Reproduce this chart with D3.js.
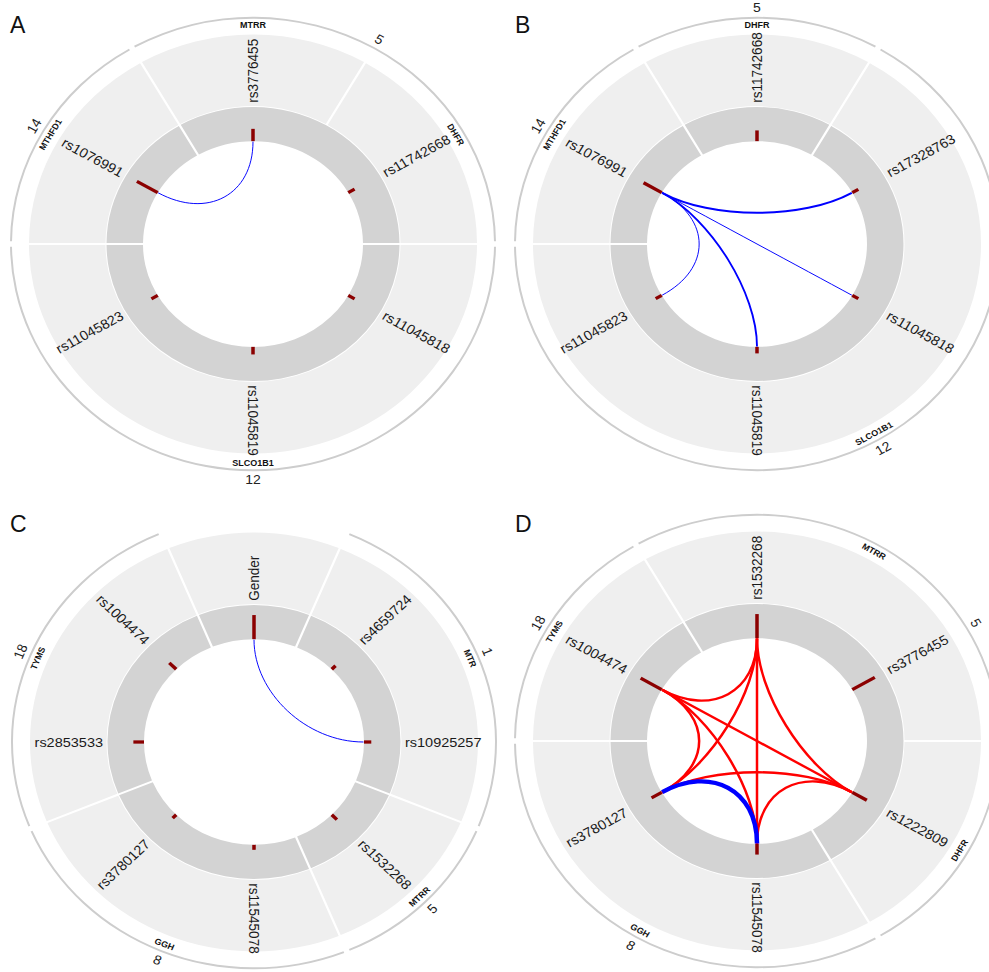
<!DOCTYPE html>
<html>
<head>
<meta charset="utf-8">
<script src="https://cdn.jsdelivr.net/npm/d3@7"></script>
<style>
  html, body { margin: 0; padding: 0; background: #fff; }
  svg { display: block; font-family: "Liberation Sans", Arial, Helvetica, sans-serif; }
</style>
</head>
<body>
<svg id="chart" width="989" height="972"></svg>
<script>
// panel A
const snpsA = ['rs3776455', 'rs11742668', 'rs11045818', 'rs11045819', 'rs11045823', 'rs1076991'];
const genesA = ['MTRR', 'DHFR', 'SLCO1B1', 'SLCO1B1', 'SLCO1B1', 'MTHFD1'];
const chromA = ['5', '5', '12', '12', '12', '14'];
const scoreA = [0.47, 0.26, 0.26, 0.29, 0.26, 0.86];
const linksA = [['rs3776455', 'rs1076991', 0.2, 'redundancy']];

// panel B
const snpsB = ['rs11742668', 'rs17328763', 'rs11045818', 'rs11045819', 'rs11045823', 'rs1076991'];
const genesB = ['DHFR', 'SLCO1B1', 'SLCO1B1', 'SLCO1B1', 'SLCO1B1', 'MTHFD1'];
const chromB = ['5', '12', '12', '12', '12', '14'];
const scoreB = [0.41, 0.25, 0.25, 0.25, 0.25, 0.75];
const linksB = [
  ['rs1076991', 'rs17328763', 0.45, 'redundancy'],
  ['rs1076991', 'rs11045818', 0.2, 'redundancy'],
  ['rs1076991', 'rs11045819', 0.38, 'redundancy'],
  ['rs1076991', 'rs11045823', 0.2, 'redundancy']
];

// panel C
const snpsC = ['Gender', 'rs4659724', 'rs10925257', 'rs1532268', 'rs11545078', 'rs3780127', 'rs2853533', 'rs1004474'];
const genesC = ['', 'MTR', 'MTR', 'MTRR', 'GGH', 'GGH', 'TYMS', 'TYMS'];
const chromC = ['', '1', '1', '5', '8', '8', '18', '18'];
const scoreC = [0.92, 0.19, 0.26, 0.26, 0.19, 0.18, 0.38, 0.35];
const linksC = [['Gender', 'rs10925257', 0.2, 'redundancy']];

// panel D
const snpsD = ['rs1532268', 'rs3776455', 'rs1222809', 'rs11545078', 'rs3780127', 'rs1004474'];
const genesD = ['MTRR', 'MTRR', 'DHFR', 'GGH', 'GGH', 'TYMS'];
const chromD = ['5', '5', '5', '8', '8', '18'];
const scoreD = [0.92, 0.93, 0.6, 0.41, 0.42, 0.87];
const linksD = [
  ['rs1532268', 'rs1004474', 0.5, 'synergy'],
  ['rs1532268', 'rs3780127', 0.5, 'synergy'],
  ['rs1532268', 'rs11545078', 0.5, 'synergy'],
  ['rs1532268', 'rs1222809', 0.5, 'synergy'],
  ['rs1004474', 'rs3780127', 0.5, 'synergy'],
  ['rs1004474', 'rs11545078', 0.5, 'synergy'],
  ['rs1004474', 'rs1222809', 0.5, 'synergy'],
  ['rs3780127', 'rs1222809', 0.5, 'synergy'],
  ['rs3780127', 'rs11545078', 0.5, 'synergy'],
  ['rs1222809', 'rs11545078', 0.5, 'synergy'],
  ['rs3780127', 'rs11545078', 0.9, 'redundancy']
];

const panels = [
  {letter: 'A', lx: 10, ly: 33, cx: 253, cy: 244, snps: snpsA, genes: genesA, chroms: chromA, scores: scoreA, links: linksA},
  {letter: 'B', lx: 515, ly: 33, cx: 757, cy: 244, snps: snpsB, genes: genesB, chroms: chromB, scores: scoreB, links: linksB},
  {letter: 'C', lx: 10, ly: 532, cx: 254, cy: 742, snps: snpsC, genes: genesC, chroms: chromC, scores: scoreC, links: linksC},
  {letter: 'D', lx: 515, ly: 532, cx: 757, cy: 741, snps: snpsD, genes: genesD, chroms: chromD, scores: scoreD, links: linksD}
];

const svg = d3.select('#chart');
svg.append('rect').attr('width', 989).attr('height', 972).attr('fill', '#fff');

const deg = Math.PI / 180;
const squash = 0.935; // the picture is a bit flatter than round
const R = {inner: 110, grayOuter: 146.5, lightInner: 147.5, lightOuter: 224,
  chrom: 241, snp: 151, gene: 234, chromLabel: 252.5, link: 109.5};

const tickLen = d3.scaleLinear().domain([0, 1]).range([0, 28]);
const linkWidth = d3.scaleLinear().domain([0, 1]).range([0, 5]);
const linkColor = d3.scaleOrdinal().domain(['redundancy', 'synergy']).range(['#0000ff', '#ff0000']);

const pt = (a, r) => [r * Math.sin(a), -r * Math.cos(a)];

// contiguous runs of the same key (gene or chromosome)
function runs(keys) {
  const out = [];
  keys.forEach((k, i) => {
    const last = out[out.length - 1];
    if (last && last.key === k) last.end = i;
    else out.push({key: k, start: i, end: i});
  });
  return out;
}

function bendTransform(a, r) {
  const [x, y] = pt(a, r);
  let rot = a / deg;
  if (rot > 90 && rot < 270) rot -= 180;
  return `translate(${x},${y}) rotate(${rot})`;
}

function drawPanel(p) {
  svg.append('text')
    .attr('x', p.lx).attr('y', p.ly)
    .attr('font-size', 23).attr('fill', '#111')
    .text(p.letter);

  const n = p.snps.length;
  const angle = d3.scaleLinear().domain([0, n]).range([0, 2 * Math.PI]);
  const half = Math.PI / n;
  const idx = new Map(p.snps.map((s, i) => [s, i]));

  const g = svg.append('g')
    .attr('transform', `translate(${p.cx},${p.cy}) scale(1,${squash})`);

  const geneRuns = runs(p.genes);
  const chromRuns = runs(p.chroms);
  const span = d => ({startAngle: angle(d.start) - half, endAngle: angle(d.end) + half});

  const lightArc = d3.arc().innerRadius(R.lightInner).outerRadius(R.lightOuter)
    .padAngle(0.022).padRadius(100);
  const grayArc = d3.arc().innerRadius(R.inner).outerRadius(R.grayOuter)
    .padAngle(0.022).padRadius(100);
  const chromArc = d3.arc().innerRadius(R.chrom).outerRadius(R.chrom + 2);

  g.selectAll('path.light').data(geneRuns).enter().append('path')
    .attr('class', 'light')
    .attr('d', d => lightArc(span(d)))
    .attr('fill', '#efefef');

  g.selectAll('path.gray').data(chromRuns).enter().append('path')
    .attr('class', 'gray')
    .attr('d', d => grayArc(span(d)))
    .attr('fill', '#d3d3d3');

  const namedChroms = chromRuns.filter(d => d.key !== '');
  g.selectAll('path.chrom').data(namedChroms).enter().append('path')
    .attr('class', 'chrom')
    .attr('d', d => {
      const s = span(d);
      return chromArc({startAngle: s.startAngle + 0.7 * deg, endAngle: s.endAngle - 0.7 * deg});
    })
    .attr('fill', '#cdcdcd');

  g.selectAll('text.chrom').data(namedChroms).enter().append('text')
    .attr('class', 'chrom')
    .attr('transform', d => bendTransform((angle(d.start) + angle(d.end)) / 2, R.chromLabel))
    .attr('text-anchor', 'middle')
    .attr('dominant-baseline', 'central')
    .attr('font-size', 14).attr('fill', '#222')
    .text(d => d.key);

  g.selectAll('text.gene').data(geneRuns.filter(d => d.key !== '')).enter().append('text')
    .attr('class', 'gene')
    .attr('transform', d => bendTransform((angle(d.start) + angle(d.end)) / 2, R.gene))
    .attr('text-anchor', 'middle')
    .attr('dominant-baseline', 'central')
    .attr('font-size', 9).attr('font-weight', 'bold').attr('fill', '#111')
    .text(d => d.key);

  // SNP labels, radial
  g.selectAll('text.snp').data(p.snps).enter().append('text')
    .attr('class', 'snp')
    .attr('transform', (d, i) => {
      const a = angle(i) / deg;
      return a <= 180
        ? `rotate(${a - 90}) translate(${R.snp},0)`
        : `rotate(${a - 90}) translate(${R.snp},0) rotate(180)`;
    })
    .attr('text-anchor', (d, i) => angle(i) / deg <= 180 ? 'start' : 'end')
    .attr('dominant-baseline', 'central')
    .attr('font-size', 14.5).attr('fill', '#1a1a1a')
    .text(d => d);

  // ticks
  g.selectAll('line.tick').data(p.scores).enter().append('line')
    .attr('class', 'tick')
    .attr('x1', (d, i) => pt(angle(i), R.inner)[0])
    .attr('y1', (d, i) => pt(angle(i), R.inner)[1])
    .attr('x2', (d, i) => pt(angle(i), R.inner + tickLen(d))[0])
    .attr('y2', (d, i) => pt(angle(i), R.inner + tickLen(d))[1])
    .attr('stroke', '#8b0000').attr('stroke-width', 3.5);

  // links
  g.selectAll('path.link').data(p.links).enter().append('path')
    .attr('class', 'link')
    .attr('d', d => {
      const a0 = angle(idx.get(d[0])), a1 = angle(idx.get(d[1]));
      const path = d3.path();
      const p0 = pt(a0, R.link), p3 = pt(a1, R.link);
      const c1 = pt(a0, R.link * 0.48), c2 = pt(a1, R.link * 0.48);
      path.moveTo(p0[0], p0[1]);
      path.bezierCurveTo(c1[0], c1[1], c2[0], c2[1], p3[0], p3[1]);
      return path.toString();
    })
    .attr('fill', 'none')
    .attr('stroke', d => linkColor(d[3]))
    .attr('stroke-width', d => linkWidth(d[2]));
}

panels.forEach(drawPanel);
</script>
</body>
</html>
